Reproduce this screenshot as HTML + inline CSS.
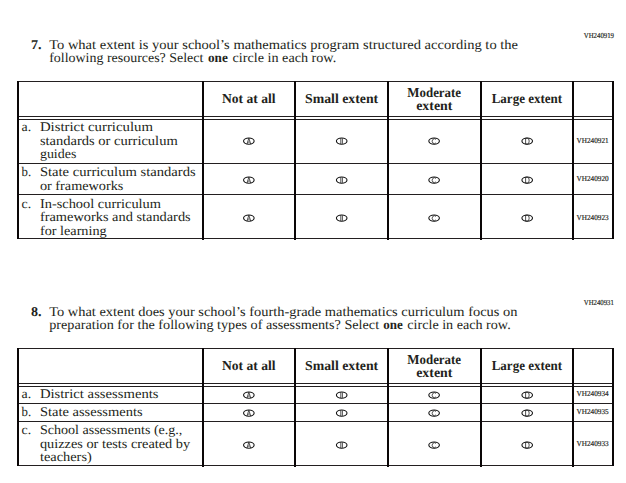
<!DOCTYPE html>
<html><head><meta charset="utf-8"><title>Questionnaire</title>
<style>
html,body{margin:0;padding:0;background:#fff;width:626px;height:483px;overflow:hidden}
svg{display:block}
text{font-family:"Liberation Serif",serif}
svg{text-rendering:geometricPrecision}
</style></head>
<body>
<svg width="626" height="483" viewBox="0 0 626 483">
<rect width="626" height="483" fill="#fff"/>
<text x="583.8" y="38.1" font-size="7.6" textLength="30.2" lengthAdjust="spacingAndGlyphs" fill="#231f20" stroke="#231f20" stroke-width="0.18">VH240919</text>
<text x="31.0" y="49" font-size="13.5" font-weight="bold" textLength="10.6" lengthAdjust="spacingAndGlyphs" fill="#231f20">7.</text>
<text x="49.2" y="49" font-size="13.5" textLength="468.8" lengthAdjust="spacingAndGlyphs" fill="#231f20">To what extent is your school’s mathematics program structured according to the</text>
<text x="49.2" y="62" font-size="13.5" textLength="154.2" lengthAdjust="spacingAndGlyphs" fill="#231f20">following resources? Select</text>
<text x="208.0" y="62" font-size="13.5" font-weight="bold" textLength="19.8" lengthAdjust="spacingAndGlyphs" fill="#231f20">one</text>
<text x="232.6" y="62" font-size="13.5" textLength="103.6" lengthAdjust="spacingAndGlyphs" fill="#231f20">circle in each row.</text>
<rect x="17" y="81" width="597" height="1" fill="#231f20"/>
<rect x="17" y="116" width="597" height="1" fill="#231f20"/>
<rect x="17" y="119" width="597" height="1" fill="#231f20"/>
<rect x="17" y="163" width="597" height="1" fill="#231f20"/>
<rect x="17" y="194" width="597" height="1" fill="#231f20"/>
<rect x="17" y="238" width="597" height="1" fill="#231f20"/>
<rect x="17" y="81" width="2" height="158" fill="#0a0607"/>
<rect x="202" y="81" width="2" height="159" fill="#0a0607"/>
<rect x="294" y="81" width="2" height="159" fill="#0a0607"/>
<rect x="387" y="81" width="2" height="159" fill="#0a0607"/>
<rect x="480" y="81" width="2" height="159" fill="#0a0607"/>
<rect x="572" y="81" width="2" height="159" fill="#0a0607"/>
<rect x="612" y="81" width="2" height="158" fill="#0a0607"/>
<text x="222.0" y="103" font-size="13.6" font-weight="bold" textLength="53.6" lengthAdjust="spacingAndGlyphs" fill="#231f20">Not at all</text>
<text x="305.0" y="103" font-size="13.6" font-weight="bold" textLength="73.2" lengthAdjust="spacingAndGlyphs" fill="#231f20">Small extent</text>
<text x="407.3" y="97" font-size="13.6" font-weight="bold" textLength="53.8" lengthAdjust="spacingAndGlyphs" fill="#231f20">Moderate</text>
<text x="416.2" y="110" font-size="13.6" font-weight="bold" textLength="36.2" lengthAdjust="spacingAndGlyphs" fill="#231f20">extent</text>
<text x="491.7" y="103" font-size="13.6" font-weight="bold" textLength="70.4" lengthAdjust="spacingAndGlyphs" fill="#231f20">Large extent</text>
<text x="21.6" y="131" font-size="13.2" textLength="9.6" lengthAdjust="spacingAndGlyphs" fill="#231f20">a.</text>
<text x="39.9" y="131" font-size="13.2" textLength="113.1" lengthAdjust="spacingAndGlyphs" fill="#231f20">District curriculum</text>
<text x="39.9" y="145" font-size="13.2" textLength="137.8" lengthAdjust="spacingAndGlyphs" fill="#231f20">standards or curriculum</text>
<text x="39.9" y="158" font-size="13.2" textLength="36.5" lengthAdjust="spacingAndGlyphs" fill="#231f20">guides</text>
<text x="21.6" y="176" font-size="13.2" textLength="9.6" lengthAdjust="spacingAndGlyphs" fill="#231f20">b.</text>
<text x="39.9" y="176" font-size="13.2" textLength="155.8" lengthAdjust="spacingAndGlyphs" fill="#231f20">State curriculum standards</text>
<text x="39.9" y="190" font-size="13.2" textLength="83.5" lengthAdjust="spacingAndGlyphs" fill="#231f20">or frameworks</text>
<text x="21.6" y="208" font-size="13.2" textLength="9.6" lengthAdjust="spacingAndGlyphs" fill="#231f20">c.</text>
<text x="39.9" y="208" font-size="13.2" textLength="121.1" lengthAdjust="spacingAndGlyphs" fill="#231f20">In-school curriculum</text>
<text x="39.9" y="221" font-size="13.2" textLength="150.8" lengthAdjust="spacingAndGlyphs" fill="#231f20">frameworks and standards</text>
<text x="39.9" y="235" font-size="13.2" textLength="66.8" lengthAdjust="spacingAndGlyphs" fill="#231f20">for learning</text>
<ellipse cx="248.85" cy="141.1" rx="5.3" ry="3.1" fill="none" stroke="#111" stroke-width="1.1"/>
<path d="M246.95,144.10 L248.85,138.20 L250.75,144.10 M247.95,142.10 H249.75" fill="none" stroke="#1a1a1a" stroke-width="0.75"/>
<ellipse cx="341.7" cy="141.1" rx="5.3" ry="3.1" fill="none" stroke="#111" stroke-width="1.1"/>
<path d="M340.80,138.20 V144.10 M342.40,138.50 V143.80" fill="none" stroke="#1a1a1a" stroke-width="0.75"/>
<ellipse cx="434.1" cy="141.1" rx="5.3" ry="3.1" fill="none" stroke="#111" stroke-width="1.1"/>
<path d="M435.80,139.50 A2.1,2.45 0 1 0 435.80,142.90" fill="none" stroke="#1a1a1a" stroke-width="0.75"/>
<ellipse cx="527.2" cy="141.1" rx="5.3" ry="3.1" fill="none" stroke="#111" stroke-width="1.1"/>
<path d="M525.60,138.20 V144.10 M525.60,138.20 H527.20 Q529.20,138.20 529.20,141.10 Q529.20,144.10 527.20,144.10 H525.60" fill="none" stroke="#1a1a1a" stroke-width="0.75"/>
<ellipse cx="248.85" cy="180.1" rx="5.3" ry="3.1" fill="none" stroke="#111" stroke-width="1.1"/>
<path d="M246.95,183.10 L248.85,177.20 L250.75,183.10 M247.95,181.10 H249.75" fill="none" stroke="#1a1a1a" stroke-width="0.75"/>
<ellipse cx="341.7" cy="180.1" rx="5.3" ry="3.1" fill="none" stroke="#111" stroke-width="1.1"/>
<path d="M340.80,177.20 V183.10 M342.40,177.50 V182.80" fill="none" stroke="#1a1a1a" stroke-width="0.75"/>
<ellipse cx="434.1" cy="180.1" rx="5.3" ry="3.1" fill="none" stroke="#111" stroke-width="1.1"/>
<path d="M435.80,178.50 A2.1,2.45 0 1 0 435.80,181.90" fill="none" stroke="#1a1a1a" stroke-width="0.75"/>
<ellipse cx="527.2" cy="180.1" rx="5.3" ry="3.1" fill="none" stroke="#111" stroke-width="1.1"/>
<path d="M525.60,177.20 V183.10 M525.60,177.20 H527.20 Q529.20,177.20 529.20,180.10 Q529.20,183.10 527.20,183.10 H525.60" fill="none" stroke="#1a1a1a" stroke-width="0.75"/>
<ellipse cx="248.85" cy="218.1" rx="5.3" ry="3.1" fill="none" stroke="#111" stroke-width="1.1"/>
<path d="M246.95,221.10 L248.85,215.20 L250.75,221.10 M247.95,219.10 H249.75" fill="none" stroke="#1a1a1a" stroke-width="0.75"/>
<ellipse cx="341.7" cy="218.1" rx="5.3" ry="3.1" fill="none" stroke="#111" stroke-width="1.1"/>
<path d="M340.80,215.20 V221.10 M342.40,215.50 V220.80" fill="none" stroke="#1a1a1a" stroke-width="0.75"/>
<ellipse cx="434.1" cy="218.1" rx="5.3" ry="3.1" fill="none" stroke="#111" stroke-width="1.1"/>
<path d="M435.80,216.50 A2.1,2.45 0 1 0 435.80,219.90" fill="none" stroke="#1a1a1a" stroke-width="0.75"/>
<ellipse cx="527.2" cy="218.1" rx="5.3" ry="3.1" fill="none" stroke="#111" stroke-width="1.1"/>
<path d="M525.60,215.20 V221.10 M525.60,215.20 H527.20 Q529.20,215.20 529.20,218.10 Q529.20,221.10 527.20,221.10 H525.60" fill="none" stroke="#1a1a1a" stroke-width="0.75"/>
<text x="576.5" y="143.0" font-size="7.6" textLength="32.1" lengthAdjust="spacingAndGlyphs" fill="#231f20" stroke="#231f20" stroke-width="0.18">VH240921</text>
<text x="576.5" y="181" font-size="7.6" textLength="32.1" lengthAdjust="spacingAndGlyphs" fill="#231f20" stroke="#231f20" stroke-width="0.18">VH240920</text>
<text x="576.5" y="220" font-size="7.6" textLength="32.1" lengthAdjust="spacingAndGlyphs" fill="#231f20" stroke="#231f20" stroke-width="0.18">VH240923</text>
<text x="583.8" y="305.0" font-size="7.6" textLength="30.0" lengthAdjust="spacingAndGlyphs" fill="#231f20" stroke="#231f20" stroke-width="0.18">VH240931</text>
<text x="31.0" y="316" font-size="13.5" font-weight="bold" textLength="10.6" lengthAdjust="spacingAndGlyphs" fill="#231f20">8.</text>
<text x="49.2" y="316" font-size="13.5" textLength="468.2" lengthAdjust="spacingAndGlyphs" fill="#231f20">To what extent does your school’s fourth-grade mathematics curriculum focus on</text>
<text x="49.2" y="329" font-size="13.5" textLength="329.9" lengthAdjust="spacingAndGlyphs" fill="#231f20">preparation for the following types of assessments? Select</text>
<text x="383.3" y="329" font-size="13.5" font-weight="bold" textLength="19.5" lengthAdjust="spacingAndGlyphs" fill="#231f20">one</text>
<text x="407.3" y="329" font-size="13.5" textLength="103.4" lengthAdjust="spacingAndGlyphs" fill="#231f20">circle in each row.</text>
<rect x="17" y="348" width="597" height="1" fill="#231f20"/>
<rect x="17" y="383" width="597" height="1" fill="#231f20"/>
<rect x="17" y="386" width="597" height="1" fill="#231f20"/>
<rect x="17" y="403" width="597" height="1" fill="#231f20"/>
<rect x="17" y="421" width="597" height="1" fill="#231f20"/>
<rect x="17" y="465" width="597" height="1" fill="#231f20"/>
<rect x="17" y="348" width="2" height="118" fill="#0a0607"/>
<rect x="202" y="348" width="2" height="119" fill="#0a0607"/>
<rect x="294" y="348" width="2" height="119" fill="#0a0607"/>
<rect x="387" y="348" width="2" height="119" fill="#0a0607"/>
<rect x="480" y="348" width="2" height="119" fill="#0a0607"/>
<rect x="572" y="348" width="2" height="119" fill="#0a0607"/>
<rect x="612" y="348" width="2" height="118" fill="#0a0607"/>
<text x="222.0" y="370" font-size="13.6" font-weight="bold" textLength="53.6" lengthAdjust="spacingAndGlyphs" fill="#231f20">Not at all</text>
<text x="305.0" y="370" font-size="13.6" font-weight="bold" textLength="73.2" lengthAdjust="spacingAndGlyphs" fill="#231f20">Small extent</text>
<text x="407.3" y="364" font-size="13.6" font-weight="bold" textLength="53.8" lengthAdjust="spacingAndGlyphs" fill="#231f20">Moderate</text>
<text x="416.2" y="377" font-size="13.6" font-weight="bold" textLength="36.2" lengthAdjust="spacingAndGlyphs" fill="#231f20">extent</text>
<text x="491.7" y="370" font-size="13.6" font-weight="bold" textLength="70.4" lengthAdjust="spacingAndGlyphs" fill="#231f20">Large extent</text>
<text x="21.6" y="398" font-size="13.2" textLength="9.6" lengthAdjust="spacingAndGlyphs" fill="#231f20">a.</text>
<text x="39.9" y="398" font-size="13.2" textLength="118.7" lengthAdjust="spacingAndGlyphs" fill="#231f20">District assessments</text>
<text x="21.6" y="416" font-size="13.2" textLength="9.6" lengthAdjust="spacingAndGlyphs" fill="#231f20">b.</text>
<text x="39.9" y="416" font-size="13.2" textLength="102.7" lengthAdjust="spacingAndGlyphs" fill="#231f20">State assessments</text>
<text x="21.6" y="434" font-size="13.2" textLength="9.6" lengthAdjust="spacingAndGlyphs" fill="#231f20">c.</text>
<text x="39.9" y="434" font-size="13.2" textLength="142.5" lengthAdjust="spacingAndGlyphs" fill="#231f20">School assessments (e.g.,</text>
<text x="39.9" y="448" font-size="13.2" textLength="150.3" lengthAdjust="spacingAndGlyphs" fill="#231f20">quizzes or tests created by</text>
<text x="39.9" y="461" font-size="13.2" textLength="51.9" lengthAdjust="spacingAndGlyphs" fill="#231f20">teachers)</text>
<ellipse cx="248.85" cy="395.1" rx="5.3" ry="3.1" fill="none" stroke="#111" stroke-width="1.1"/>
<path d="M246.95,398.10 L248.85,392.20 L250.75,398.10 M247.95,396.10 H249.75" fill="none" stroke="#1a1a1a" stroke-width="0.75"/>
<ellipse cx="341.7" cy="395.1" rx="5.3" ry="3.1" fill="none" stroke="#111" stroke-width="1.1"/>
<path d="M340.80,392.20 V398.10 M342.40,392.50 V397.80" fill="none" stroke="#1a1a1a" stroke-width="0.75"/>
<ellipse cx="434.1" cy="395.1" rx="5.3" ry="3.1" fill="none" stroke="#111" stroke-width="1.1"/>
<path d="M435.80,393.50 A2.1,2.45 0 1 0 435.80,396.90" fill="none" stroke="#1a1a1a" stroke-width="0.75"/>
<ellipse cx="527.2" cy="395.1" rx="5.3" ry="3.1" fill="none" stroke="#111" stroke-width="1.1"/>
<path d="M525.60,392.20 V398.10 M525.60,392.20 H527.20 Q529.20,392.20 529.20,395.10 Q529.20,398.10 527.20,398.10 H525.60" fill="none" stroke="#1a1a1a" stroke-width="0.75"/>
<ellipse cx="248.85" cy="413.1" rx="5.3" ry="3.1" fill="none" stroke="#111" stroke-width="1.1"/>
<path d="M246.95,416.10 L248.85,410.20 L250.75,416.10 M247.95,414.10 H249.75" fill="none" stroke="#1a1a1a" stroke-width="0.75"/>
<ellipse cx="341.7" cy="413.1" rx="5.3" ry="3.1" fill="none" stroke="#111" stroke-width="1.1"/>
<path d="M340.80,410.20 V416.10 M342.40,410.50 V415.80" fill="none" stroke="#1a1a1a" stroke-width="0.75"/>
<ellipse cx="434.1" cy="413.1" rx="5.3" ry="3.1" fill="none" stroke="#111" stroke-width="1.1"/>
<path d="M435.80,411.50 A2.1,2.45 0 1 0 435.80,414.90" fill="none" stroke="#1a1a1a" stroke-width="0.75"/>
<ellipse cx="527.2" cy="413.1" rx="5.3" ry="3.1" fill="none" stroke="#111" stroke-width="1.1"/>
<path d="M525.60,410.20 V416.10 M525.60,410.20 H527.20 Q529.20,410.20 529.20,413.10 Q529.20,416.10 527.20,416.10 H525.60" fill="none" stroke="#1a1a1a" stroke-width="0.75"/>
<ellipse cx="248.85" cy="445.1" rx="5.3" ry="3.1" fill="none" stroke="#111" stroke-width="1.1"/>
<path d="M246.95,448.10 L248.85,442.20 L250.75,448.10 M247.95,446.10 H249.75" fill="none" stroke="#1a1a1a" stroke-width="0.75"/>
<ellipse cx="341.7" cy="445.1" rx="5.3" ry="3.1" fill="none" stroke="#111" stroke-width="1.1"/>
<path d="M340.80,442.20 V448.10 M342.40,442.50 V447.80" fill="none" stroke="#1a1a1a" stroke-width="0.75"/>
<ellipse cx="434.1" cy="445.1" rx="5.3" ry="3.1" fill="none" stroke="#111" stroke-width="1.1"/>
<path d="M435.80,443.50 A2.1,2.45 0 1 0 435.80,446.90" fill="none" stroke="#1a1a1a" stroke-width="0.75"/>
<ellipse cx="527.2" cy="445.1" rx="5.3" ry="3.1" fill="none" stroke="#111" stroke-width="1.1"/>
<path d="M525.60,442.20 V448.10 M525.60,442.20 H527.20 Q529.20,442.20 529.20,445.10 Q529.20,448.10 527.20,448.10 H525.60" fill="none" stroke="#1a1a1a" stroke-width="0.75"/>
<text x="576.5" y="396" font-size="7.6" textLength="32.1" lengthAdjust="spacingAndGlyphs" fill="#231f20" stroke="#231f20" stroke-width="0.18">VH240934</text>
<text x="576.5" y="414" font-size="7.6" textLength="32.1" lengthAdjust="spacingAndGlyphs" fill="#231f20" stroke="#231f20" stroke-width="0.18">VH240935</text>
<text x="576.5" y="446" font-size="7.6" textLength="32.1" lengthAdjust="spacingAndGlyphs" fill="#231f20" stroke="#231f20" stroke-width="0.18">VH240933</text>
</svg>
</body></html>
